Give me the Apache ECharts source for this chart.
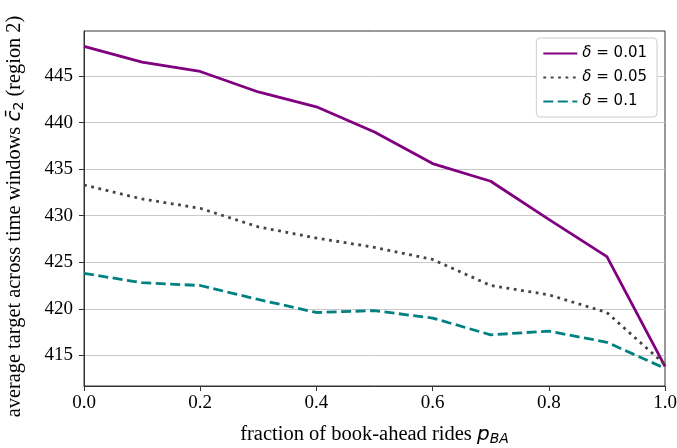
<!DOCTYPE html>
<html>
<head>
<meta charset="utf-8">
<script src="https://cdn.jsdelivr.net/npm/echarts@6/dist/echarts.min.js"></script>
<style>
  html, body { margin: 0; padding: 0; background: #fff; }
  #chart { width: 677px; height: 448px; }
</style>
</head>
<body>
<div id="chart"></div>
<script>
// fraction of book-ahead rides
const pBA = [0.0, 0.1, 0.2, 0.3, 0.4, 0.5, 0.6, 0.7, 0.8, 0.9, 1.0]
const delta001 = [448.2, 446.5, 445.5, 443.3, 441.7, 439.0, 435.6, 433.7, 429.6, 425.6, 413.8]
const delta005 = [433.3, 431.8, 430.8, 428.8, 427.6, 426.6, 425.3, 422.5, 421.5, 419.6, 414.0]
const delta01 = [423.8, 422.8, 422.5, 421.0, 419.6, 419.8, 419.0, 417.2, 417.6, 416.4, 413.6]
const yTicks = [415, 420, 425, 430, 435, 440, 445]

const serif = "'Liberation Serif', 'Times New Roman', serif"
const sans = "'DejaVu Sans', sans-serif"

const chart = echarts.init(document.getElementById('chart'))

const pairs = arr => pBA.map((x, i) => [x, arr[i]])

const option = {
  animation: false,
  grid: {
    left: 84, right: 12, top: 31, bottom: 62,
    outerBoundsMode: 'none',
    show: true, borderColor: '#333', borderWidth: 1
  },
  legend: {
    right: 20, top: 38,
    orient: 'vertical',
    itemWidth: 34, itemHeight: 10, itemGap: 9,
    padding: [8, 10, 8, 6],
    backgroundColor: '#fff',
    borderColor: '#ccc', borderWidth: 1, borderRadius: 4,
    itemStyle: { opacity: 0 },
    textStyle: {
      fontFamily: sans, fontSize: 15, color: '#000',
      rich: { d: { fontFamily: sans, fontSize: 15, fontStyle: 'italic' } }
    },
    formatter: name => '{d|δ} = ' + name
  },
  xAxis: {
    type: 'value', min: 0, max: 1, interval: 0.2,
    name: 'fraction of book-ahead rides {i|p}{s|BA}',
    nameLocation: 'middle', nameGap: 37,
    nameTextStyle: {
      fontFamily: serif, fontSize: 20.5, color: '#000',
      rich: {
        i: { fontFamily: sans, fontStyle: 'italic', fontSize: 20, color: '#000' },
        s: { fontFamily: sans, fontStyle: 'italic', fontSize: 14, color: '#000', verticalAlign: 'bottom', padding: [9, 0, 0, 0] }
      }
    },
    axisLine: { lineStyle: { color: '#333', width: 1 } },
    axisTick: { show: true, length: 5, lineStyle: { color: '#333' } },
    axisLabel: { fontFamily: serif, fontSize: 19, color: '#000', margin: 8, formatter: v => v.toFixed(1) },
    splitLine: { show: false }
  },
  yAxis: {
    type: 'value', min: 411.7, max: 449.85,
    name: 'average target across time windows {i|c̄}{s|2} (region 2)',
    nameLocation: 'middle', nameGap: 58,
    nameTextStyle: {
      fontFamily: serif, fontSize: 20.4, color: '#000',
      padding: [0, 16, 0, 0],
      rich: {
        i: { fontFamily: sans, fontStyle: 'italic', fontSize: 20, color: '#000' },
        s: { fontFamily: sans, fontSize: 14, color: '#000', verticalAlign: 'bottom', padding: [9, 0, 0, 0] }
      }
    },
    axisLine: { show: true, lineStyle: { color: '#333', width: 1 } },
    axisTick: { show: true, length: 5, lineStyle: { color: '#333' }, customValues: yTicks },
    axisLabel: { fontFamily: serif, fontSize: 19, color: '#000', margin: 11, customValues: yTicks },
    splitLine: { show: true, lineStyle: { color: '#c8c8c8', width: 1 } }
  },
  series: [
    {
      name: '0.01', type: 'line', data: pairs(delta001), showSymbol: false, symbol: 'none',
      color: '#800080', lineStyle: { color: '#800080', width: 2.8 }
    },
    {
      name: '0.05', type: 'line', data: pairs(delta005), showSymbol: false, symbol: 'none',
      color: '#444', lineStyle: { color: '#444', width: 2.8, type: [2.8, 4.6] }
    },
    {
      name: '0.1', type: 'line', data: pairs(delta01), showSymbol: false, symbol: 'none',
      color: '#008080', lineStyle: { color: '#008080', width: 2.8, type: [10, 4.5] }
    }
  ]
}

chart.setOption(option)
</script>
</body>
</html>
